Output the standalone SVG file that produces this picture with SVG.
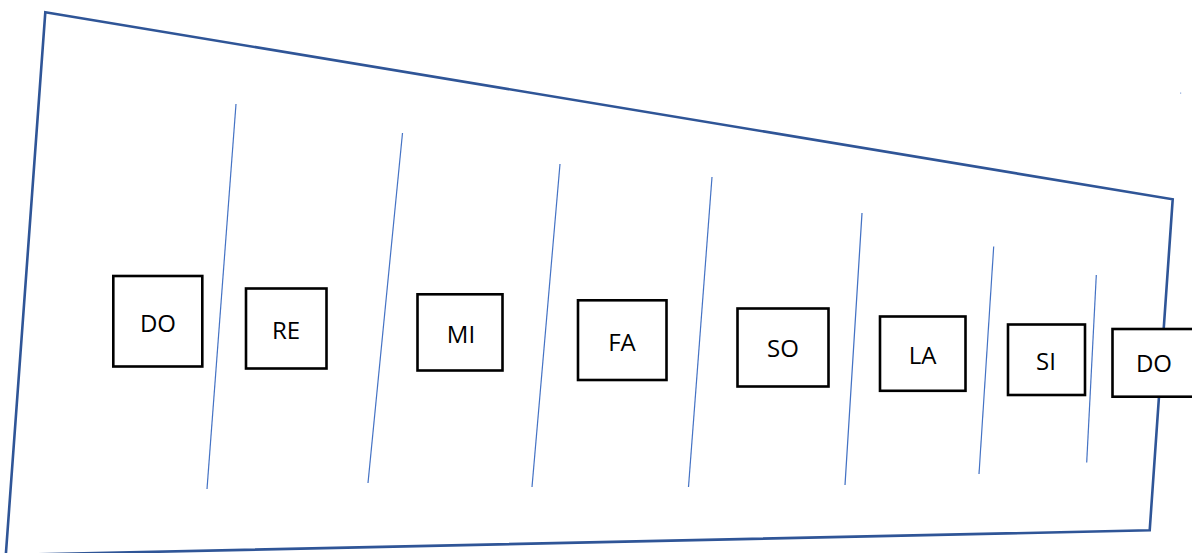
<svg xmlns="http://www.w3.org/2000/svg" width="1192" height="553" viewBox="0 0 1192 553">
<style>
.outline{fill:none;stroke:#2F5597;stroke-width:2.6;stroke-linejoin:miter}
.div{stroke:#4472C4;stroke-width:1.2;fill:none}
.box{fill:#fff;stroke:#000;stroke-width:2.6}
.lbl{font-family:"Open Sans","Liberation Sans",sans-serif;font-size:24px;fill:#000;text-anchor:middle}
</style>
<rect width="1192" height="553" fill="#fff"/>
<polygon class="outline" points="45.3,12.3 1172.7,199.3 1149.7,530.3 5.8,555"/>
<rect x="1180" y="92.5" width="1.2" height="1.2" fill="#8EA9DB"/>
<g id="connectors">
<line class="div" x1="236" y1="104" x2="207" y2="489"/>
<line class="div" x1="402.5" y1="133" x2="368" y2="483"/>
<line class="div" x1="560" y1="164" x2="532" y2="487"/>
<line class="div" x1="712" y1="177" x2="688.5" y2="487"/>
<line class="div" x1="862" y1="213" x2="845" y2="485"/>
<line class="div" x1="993.7" y1="246.5" x2="979" y2="474"/>
<line class="div" x1="1096.3" y1="275" x2="1086.7" y2="462.5"/>
</g>
<g id="n-do1"><rect class="box" x="113.3" y="276" width="89" height="90.5"/><text class="lbl" x="158" y="331.5">DO</text></g>
<g id="n-re"><rect class="box" x="246" y="288.5" width="80.5" height="80"/><text class="lbl" x="286" y="338.5">RE</text></g>
<g id="n-mi"><rect class="box" x="417.5" y="294.3" width="85" height="76.2"/><text class="lbl" x="461" y="342.5">MI</text></g>
<g id="n-fa"><rect class="box" x="578" y="300.3" width="88.5" height="79.7"/><text class="lbl" x="622" y="350.5">FA</text></g>
<g id="n-so"><rect class="box" x="737.5" y="308.5" width="91" height="78"/><text class="lbl" x="783" y="357">SO</text></g>
<g id="n-la"><rect class="box" x="880" y="316.5" width="85.5" height="74.3"/><text class="lbl" x="922.5" y="363.5">LA</text></g>
<g id="n-si"><rect class="box" x="1008" y="324.5" width="77" height="70.5"/><text class="lbl" x="1046" y="369.5">SI</text></g>
<g id="n-do2"><rect class="box" x="1112.5" y="329" width="90" height="67.7"/><text class="lbl" x="1154" y="372">DO</text></g>
</svg>
